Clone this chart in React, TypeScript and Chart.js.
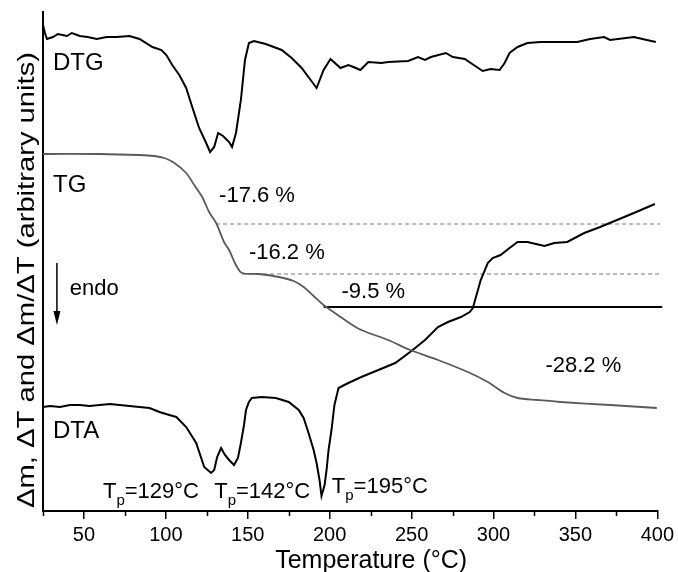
import React, { useEffect, useRef } from 'react';
import { Chart, registerables } from 'chart.js';

Chart.register(...registerables);

// ---------- data (temperature in °C, signal in arbitrary units) ----------
const dtgT = [25, 26.2, 27.4, 31.1, 34.1, 39.6, 42.6, 47.5, 52.3, 57.8, 63.9, 69.9, 77.8, 83.9, 91.8, 97.3, 100.3, 103.9, 108.2, 112.4, 116.1, 120.3, 124.6, 127.0, 129.5, 131.9, 134.9, 138.6, 140.4, 142.8, 145.8, 148.3, 150.7, 153.7, 161.0, 170.7, 176.8, 182.9, 188.4, 192.0, 196.3, 200.5, 206.6, 211.4, 214.5, 218.7, 223.6, 231.5, 235.7, 247.9, 253.9, 258.2, 261.8, 270.9, 275.2, 282.5, 286.1, 293.4, 298.3, 303.7, 306.8, 309.8, 314.7, 320.7, 328.6, 340.8, 351.1, 359.0, 367.5, 371.2, 385.7, 393.6, 399.1];
const dtgV = [486, 478, 472, 474, 477, 475, 478, 475, 474, 472, 474, 474, 475, 472, 464, 461, 456, 446, 436, 423, 404, 383, 368, 359, 364, 378, 375, 369, 364, 378, 411, 451, 468, 470, 467, 461, 453, 443, 431, 423, 441, 452, 443, 446, 444, 441, 449, 448, 449, 450, 454, 451, 454, 458, 454, 452, 448, 440, 442, 441, 448, 458, 464, 468, 469, 469, 469, 472, 474, 471, 474, 471, 469];

const tgT = [25, 59.6, 83.9, 93.0, 99.1, 105.2, 112.4, 117.3, 122.2, 126.4, 130.7, 135.5, 138.6, 142.8, 146.5, 156.8, 168.9, 178.0, 184.1, 190.2, 196.3, 202.3, 210.2, 219.3, 235.7, 249.1, 266.1, 284.3, 296.5, 306.8, 314.7, 326.8, 340.8, 371.2, 399.7];
const tgV = [357, 357, 356, 355, 353, 348, 338, 326, 314, 299, 288, 269, 261, 246, 238, 237, 234, 230, 224, 215, 206, 199, 190, 181, 171, 161, 151, 139, 129, 118, 113, 111, 109, 106, 103];

const dtaT = [25, 29.3, 35.3, 41.4, 47.5, 53.5, 59.6, 65.7, 71.8, 77.8, 83.9, 90.0, 96.1, 102.1, 106.4, 112.4, 118.5, 123.4, 127.6, 129.5, 131.3, 133.7, 136.1, 138.6, 141.6, 144.0, 145.8, 147.7, 148.9, 150.7, 152.5, 158.6, 167.1, 175.0, 181.1, 184.1, 187.1, 190.2, 192.0, 193.8, 195.0, 196.9, 198.1, 199.3, 201.1, 202.9, 205.4, 211.4, 219.3, 229.7, 240.0, 249.1, 258.2, 266.1, 272.2, 280.1, 285.5, 287.4, 292.2, 296.5, 299.5, 304.3, 309.8, 314.7, 320.7, 331.1, 337.1, 345.0, 355.4, 365.1, 375.4, 385.7, 398.5];
const dtaV = [104, 105, 104, 106, 106, 105, 106, 107, 106, 105, 104, 103, 99, 96, 94, 84, 68, 44, 38, 41, 54, 63, 56, 51, 46, 53, 68, 86, 101, 109, 113, 114, 113, 109, 101, 93, 78, 61, 48, 31, 15, 26, 41, 61, 81, 106, 123, 128, 134, 141, 148, 159, 171, 184, 189, 194, 199, 203, 231, 248, 253, 256, 263, 269, 269, 265, 268, 269, 278, 284, 291, 298, 307];

// step guide lines (mass-loss levels)
const guideUpperT = [130.7, 401.8];
const guideUpperV = [287, 287];
const guideLowerT = [146.5, 401.8];
const guideLowerV = [237, 237];
const guideSolidT = [196.3, 403];
const guideSolidV = [204, 204];

// axis ticks
const xMin = 25;
const xMax = 400;
const xMajorStep = 50;
const xMinorTicks = [25, 75, 125, 175, 225, 275, 325, 375];

// texts
const xTitle = 'Temperature (°C)';
const yTitle = 'Δm, ΔT and Δm/ΔT (arbitrary units)';
const curveLabels = ['DTG', 'TG', 'DTA'];
const curveLabelT = [31.1, 31.1, 31.1];
const curveLabelV = [441, 319, 73];
const stepLabels = ['-17.6 %', '-16.2 %', '-9.5 %', '-28.2 %'];
const stepLabelT = [132.5, 150.7, 207.2, 331.7];
const stepLabelV = [309, 252, 213, 139];
const peakTemps = ['129°C', '142°C', '195°C'];
const peakLabelT = [61.6, 129.5, 201.3];
const peakLabelV = [13, 13, 18];
const endoLabel = 'endo';
const endoT = 41.4;
const endoV = 216;
const endoArrowT = 33.5;
const endoArrowV = [248, 186];

const FONT = "'Liberation Sans', Arial, Helvetica, sans-serif";

const xy = (ts: number[], vs: number[]) => ts.map((t, i) => ({ x: t, y: vs[i] }));

const annotationPlugin = {
  id: 'thermoAnnotations',
  afterDraw(chart: any) {
    const { ctx, scales, chartArea } = chart;
    const xs = scales.x;
    const ys = scales.y;
    ctx.save();
    ctx.fillStyle = '#000';
    ctx.strokeStyle = '#000';
    ctx.textAlign = 'left';
    ctx.textBaseline = 'alphabetic';

    // minor ticks
    ctx.lineWidth = 1.5;
    xMinorTicks.forEach((v) => {
      const px = Math.round(xs.getPixelForValue(v)) + 0.5;
      ctx.beginPath();
      ctx.moveTo(px, chartArea.bottom);
      ctx.lineTo(px, chartArea.bottom + 5);
      ctx.stroke();
    });

    // curve labels
    ctx.font = `24px ${FONT}`;
    curveLabels.forEach((s, i) => {
      ctx.fillText(s, xs.getPixelForValue(curveLabelT[i]), ys.getPixelForValue(curveLabelV[i]));
    });

    // step labels
    ctx.font = `22px ${FONT}`;
    stepLabels.forEach((s, i) => {
      ctx.fillText(s, xs.getPixelForValue(stepLabelT[i]), ys.getPixelForValue(stepLabelV[i]));
    });

    // peak labels T_p=...
    peakTemps.forEach((s, i) => {
      let x = xs.getPixelForValue(peakLabelT[i]);
      const y = ys.getPixelForValue(peakLabelV[i]);
      ctx.font = `22px ${FONT}`;
      ctx.fillText('T', x, y);
      x += ctx.measureText('T').width;
      ctx.font = `15px ${FONT}`;
      ctx.fillText('p', x, y + 7);
      x += ctx.measureText('p').width;
      ctx.font = `22px ${FONT}`;
      ctx.fillText('=' + s, x, y);
    });

    // endo label and arrow
    ctx.font = `22px ${FONT}`;
    ctx.fillText(endoLabel, xs.getPixelForValue(endoT), ys.getPixelForValue(endoV));
    const ax = xs.getPixelForValue(endoArrowT);
    const ay0 = ys.getPixelForValue(endoArrowV[0]);
    const ay1 = ys.getPixelForValue(endoArrowV[1]);
    ctx.lineWidth = 1.5;
    ctx.beginPath();
    ctx.moveTo(ax, ay0);
    ctx.lineTo(ax, ay1 - 12);
    ctx.stroke();
    ctx.beginPath();
    ctx.moveTo(ax - 3.5, ay1 - 14);
    ctx.lineTo(ax + 3.5, ay1 - 14);
    ctx.lineTo(ax, ay1);
    ctx.closePath();
    ctx.fill();

    // axis titles
    ctx.font = `25px ${FONT}`;
    ctx.textAlign = 'center';
    ctx.fillText(xTitle, (chartArea.left + chartArea.right) / 2 + 21, 568);

    ctx.save();
    ctx.translate(34, 280);
    ctx.rotate(-Math.PI / 2);
    ctx.font = `24px ${FONT}`;
    const w = ctx.measureText(yTitle).width;
    ctx.scale(456 / w, 1);
    ctx.fillText(yTitle, 0, 0);
    ctx.restore();

    ctx.restore();
  },
};

export default function App() {
  const canvasRef = useRef<HTMLCanvasElement | null>(null);

  useEffect(() => {
    const canvas = canvasRef.current;
    if (!canvas) return;
    const chart = new Chart(canvas, {
      type: 'line',
      data: {
        datasets: [
          {
            label: 'DTG',
            data: xy(dtgT, dtgV),
            borderColor: '#000',
            borderWidth: 2,
            pointRadius: 0,
            tension: 0,
          },
          {
            label: 'TG',
            data: xy(tgT, tgV),
            borderColor: '#5a5a5a',
            borderWidth: 1.8,
            pointRadius: 0,
            tension: 0.3,
          },
          {
            label: 'DTA',
            data: xy(dtaT, dtaV),
            borderColor: '#000',
            borderWidth: 2,
            pointRadius: 0,
            tension: 0,
          },
          {
            label: 'guide upper',
            data: xy(guideUpperT, guideUpperV),
            borderColor: '#777',
            borderWidth: 1,
            borderDash: [4, 3],
            pointRadius: 0,
            clip: false,
          },
          {
            label: 'guide lower',
            data: xy(guideLowerT, guideLowerV),
            borderColor: '#777',
            borderWidth: 1,
            borderDash: [4, 3],
            pointRadius: 0,
            clip: false,
          },
          {
            label: 'guide solid',
            data: xy(guideSolidT, guideSolidV),
            borderColor: '#000',
            borderWidth: 2,
            pointRadius: 0,
            clip: false,
          },
        ],
      },
      options: {
        responsive: false,
        animation: false,
        parsing: true,
        layout: { padding: { top: 12, right: 18, left: 0, bottom: 0 } },
        plugins: {
          legend: { display: false },
          tooltip: { enabled: false },
          title: { display: false },
        },
        scales: {
          x: {
            type: 'linear',
            min: xMin,
            max: xMax,
            position: 'bottom',
            ticks: {
              stepSize: xMajorStep,
              includeBounds: false,
              color: '#000',
              font: { size: 20, family: FONT },
              padding: 4,
              maxRotation: 0,
              autoSkip: false,
            },
            grid: {
              display: true,
              drawOnChartArea: false,
              drawTicks: true,
              tickLength: 8,
              color: '#000',
              lineWidth: 1.5,
            },
            border: { display: true, color: '#000', width: 2 },
            afterFit: (s: any) => {
              s.height = 61;
            },
          },
          y: {
            type: 'linear',
            min: 0,
            max: 499,
            ticks: { display: false },
            grid: { display: false, drawTicks: false },
            border: { display: true, color: '#000', width: 2 },
            afterFit: (s: any) => {
              s.width = 43;
            },
          },
        },
      } as any,
      plugins: [annotationPlugin],
    });
    return () => chart.destroy();
  }, []);

  return (
    <div style={{ position: 'absolute', left: 0, top: 0, width: 678, height: 572, background: '#fff' }}>
      <canvas ref={canvasRef} width={678} height={572} style={{ width: 678, height: 572, display: 'block' }} />
    </div>
  );
}
